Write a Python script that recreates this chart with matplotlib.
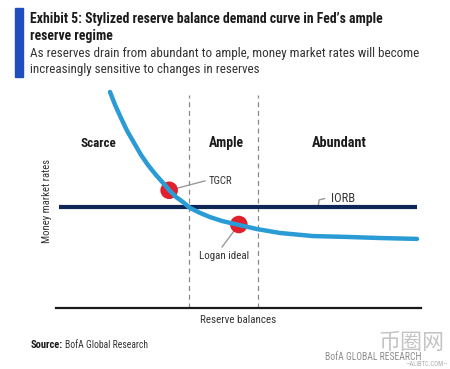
import matplotlib
matplotlib.use("Agg")
import matplotlib.pyplot as plt
from matplotlib.patches import Rectangle

# ---- data (stylized units 0-100) ----
curve_x = [14.8, 16.2, 17.8, 19.5, 21.4, 23.3, 25.2, 27.4, 29.6, 31.0, 32.9, 34.8, 36.7,
           39.5, 42.2, 45.5, 50.1, 55.1, 61.4, 70.4, 79.7, 88.8, 98.9]
curve_y = [99.1, 93.1, 87.2, 81.2, 75.7, 70.2, 65.6, 61.0, 56.9, 54.1, 50.9, 48.6, 45.9,
           43.6, 41.7, 39.9, 38.1, 36.2, 34.4, 33.0, 32.6, 32.1, 31.7]
iorb_level = 46.3
iorb_span = [0.8, 98.9]
regime_bounds = [36.4, 55.3]
regime_names = ["Scarce", "Ample", "Abundant"]
regime_label_x = [11.5, 46.6, 77.5]
point_names = ["TGCR", "Logan ideal"]
point_x = [31.0, 50.1]
point_y = [54.0, 38.3]

FONT = ["Roboto Condensed", "Liberation Sans Narrow", "Roboto", "DejaVu Sans"]
plt.rcParams["font.family"] = FONT

fig = plt.figure(figsize=(4.5, 3.69), dpi=100)
W, H = 450, 369
renderer = fig.canvas.get_renderer()


def fx(px):
    return px / W


def fy(py):
    return 1 - py / H


def fit(t, target_px, vertical=False):
    """scale a text's font size so its rendered extent matches target_px"""
    for _ in range(3):
        bb = t.get_window_extent(renderer=renderer)
        cur = bb.height if vertical else bb.width
        if cur > 0:
            t.set_fontsize(t.get_fontsize() * target_px / cur)
    return t


# header
fig.patches.append(Rectangle((fx(15), fy(77)), 8 / W, 69 / H, transform=fig.transFigure,
                             color="#1f4fbf", zorder=1))
t1 = fig.text(fx(30), fy(19), "Exhibit 5: Stylized reserve balance demand curve in Fed\u2019s ample",
              fontsize=9, fontweight="bold", color="#1a1a1a", va="center", ha="left")
fit(t1, 353)
fig.text(fx(30), fy(36), "reserve regime", fontsize=t1.get_fontsize(),
         fontweight="bold", color="#1a1a1a", va="center", ha="left")
s1 = fig.text(fx(30), fy(54), "As reserves drain from abundant to ample, money market rates will become",
              fontsize=9, color="#333333", va="center", ha="left")
fit(s1, 388)
fig.text(fx(30), fy(70), "increasingly sensitive to changes in reserves",
         fontsize=s1.get_fontsize(), color="#333333", va="center", ha="left")

# plot area
ax = fig.add_axes([fx(56), fy(308), 365 / W, 218 / H])
ax.set_xlim(0, 100)
ax.set_ylim(0, 100)
for s in ["top", "right", "left"]:
    ax.spines[s].set_visible(False)
ax.spines["bottom"].set_linewidth(1.6)
ax.spines["bottom"].set_color("#1a1a1a")
ax.set_xticks([])
ax.set_yticks([])
ax.patch.set_alpha(0)

for b in regime_bounds:
    ax.plot([b, b], [0, 97.7], ls=(0, (4, 3)), color="#8a8a8a", lw=0.9, zorder=1,
            clip_on=False)

ax.plot(iorb_span, [iorb_level, iorb_level], color="#0d2757", lw=3, zorder=2,
        solid_capstyle="butt")
ax.plot(curve_x, curve_y, color="#2a9bd4", lw=3.2, zorder=3, clip_on=False,
        solid_capstyle="round", solid_joinstyle="round")

# points
ax.scatter(point_x, point_y, s=160, color="#e0202a", zorder=2.5, edgecolors="none")

# leaders and point labels
ax.plot([point_x[0], 40.8], [point_y[0], 58.3], color="#9a9a9a", lw=1, zorder=2)
tt = ax.text(41.9, 58.3, point_names[0], fontsize=8, color="#333333", va="center", ha="left")
fit(tt, 24)
ax.plot([point_x[1], 45.5], [point_y[1], 28], color="#9a9a9a", lw=1, zorder=2)
tl = ax.text(46.0, 23.9, point_names[1], fontsize=8, color="#333333", va="center", ha="center")
fit(tl, 50)
ax.plot([71.8, 72.1, 73.6], [iorb_level, 49.6, 50.2], color="#9a9a9a", lw=1, zorder=1.5)
ti = ax.text(75.3, 50.2, "IORB", fontsize=8, color="#333333", va="center", ha="left")
fit(ti, 24)

regime_widths = [36, 35, 55]
for name, x, w in zip(regime_names, regime_label_x, regime_widths):
    tr = ax.text(x, 75.5, name, fontsize=9, fontweight="bold", color="#1a1a1a",
                 va="center", ha="center")
    fit(tr, w)

ty = ax.text(-2.4, 49, "Money market rates", rotation=90, fontsize=7.5, color="#333333",
             va="center", ha="center")
fit(ty, 83, vertical=True)
tx = ax.text(50, -5.5, "Reserve balances", fontsize=8, color="#333333", va="center", ha="center")
fit(tx, 77)

# footer
src = fig.text(fx(31), fy(345), "Source:", fontsize=7.5, fontweight="bold", color="#1a1a1a",
               va="center", ha="left")
fit(src, 32)
src2 = fig.text(fx(65), fy(345), "BofA Global Research", fontsize=7.5, color="#333333",
                va="center", ha="left")
fit(src2, 83)

# watermark
wm = fig.text(fx(378), fy(343), "币圈网", fontsize=14, color="#c4c4c4", va="center", ha="left",
              family=["Noto Sans CJK SC", "DejaVu Sans"])
fit(wm, 66)
wb = fig.text(fx(325), fy(357), "BofA GLOBAL RESEARCH", fontsize=6.5, color="#8c8c8c",
              va="center", ha="left")
fit(wb, 96)
wa = fig.text(fx(405), fy(364), "\u2014ALIBTC.COM\u2014", fontsize=5, color="#b0b0b0",
              va="center", ha="left")
fit(wa, 43)

fig.savefig("out.png", dpi=100, facecolor="white")
